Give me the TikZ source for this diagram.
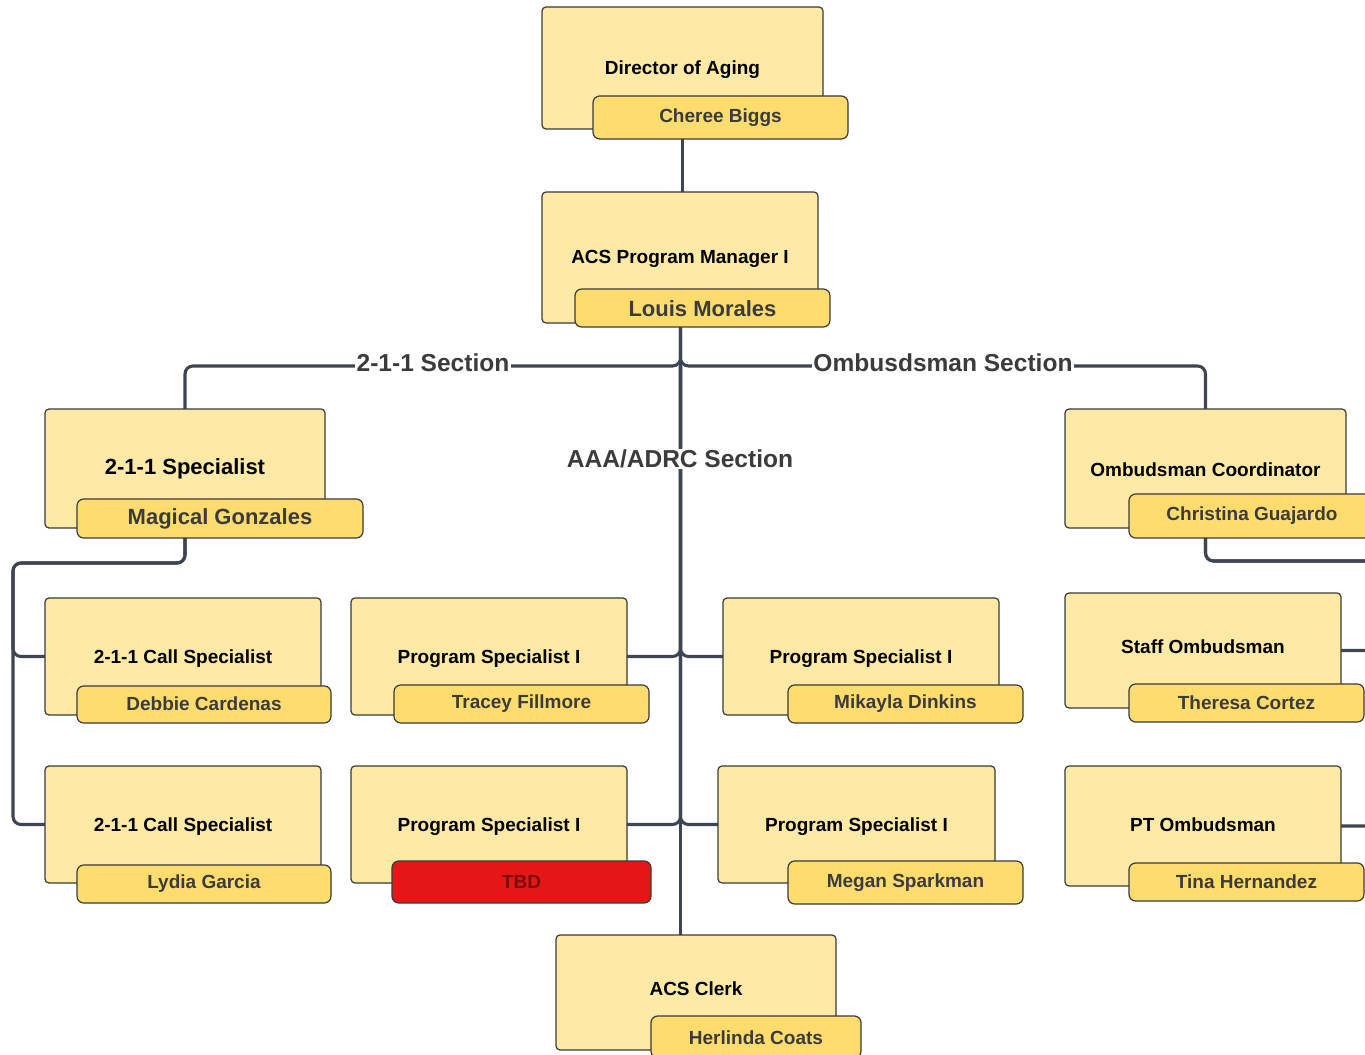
\documentclass[tikz,border=0pt]{standalone}
\usepackage{fontspec}
\setmainfont{Liberation Sans}
\usetikzlibrary{fit,backgrounds}

\definecolor{cardfill}{HTML}{FEE9A6}
\definecolor{badgefill}{HTML}{FFDC6E}
\definecolor{edgegray}{HTML}{3A3A3A}
\definecolor{wire}{HTML}{3E4451}
\definecolor{nametext}{HTML}{3B3B3B}
\definecolor{vacant}{HTML}{E51616}
\definecolor{vacanttext}{HTML}{7A0C0C}

% fit leaves the text high in the box: drop it so the cap line sits in the middle,
% then raise it by the optional amount
\newcommand\captext[2][0pt]{\raisebox{\dimexpr#1-0.36em-8pt\relax}{#2}}
\newcommand\nametag[2][3.25pt]{\captext[#1]{#2}}

\tikzset{
  card/.style={draw=edgegray, fill=cardfill, line width=0.9pt, rounded corners=3pt,
    inner sep=0pt, outer sep=0pt, text=black,
    font=\fontsize{14.25}{16}\selectfont\bfseries},
  bigtitle/.style={font=\fontsize{16.5}{18}\selectfont\bfseries},
  badge/.style={draw=edgegray, fill=badgefill, line width=0.9pt, rounded corners=5pt,
    inner sep=0pt, outer sep=0pt, text=nametext,
    font=\fontsize{14.25}{16}\selectfont\bfseries},
  bigname/.style={font=\fontsize{16.5}{18}\selectfont\bfseries},
  vacantbadge/.style={badge, fill=vacant, text=vacanttext},
  conn/.style={draw=wire, line width=2.3pt, rounded corners=6pt},
  sectionlabel/.style={fill=white, inner sep=1pt, text=nametext,
    font=\fontsize{18.4}{20}\selectfont\bfseries},
}

\begin{document}
\begin{tikzpicture}[x=0.75pt, y=-0.75pt]
\path[use as bounding box] (0,0) rectangle (1365,1055);
\clip (0,0) rectangle (1365,1055);

% top of the chart
\node[card, fit={(542,7) (823,129)}] (dir) {\captext{Director of Aging}};
\node[badge, fit={(593,96) (848,139)}] (dirN) {\nametag{Cheree Biggs}};
\node[card, fit={(542,192) (818,323)}] (pm) {\captext[1pt]{ACS Program Manager I}};
\node[badge, bigname, fit={(575,289) (830,327)}] (pmN) {\nametag[1pt]{Louis Morales}};

% 2-1-1 section
\node[card, bigtitle, fit={(45,409) (325,528)}] (s211) {\captext[1.5pt]{2-1-1 Specialist}};
\node[badge, bigname, fit={(77,499) (363,538)}] (s211N) {\nametag[1pt]{Magical Gonzales}};
\node[card, fit={(45,598) (321,715)}] (call1) {\captext{2-1-1 Call Specialist}};
\node[badge, fit={(77,686) (331,723)}] (call1N) {\nametag{Debbie Cardenas}};
\node[card, fit={(45,766) (321,883)}] (call2) {\captext{2-1-1 Call Specialist}};
\node[badge, fit={(77,865) (331,903)}] (call2N) {\nametag{Lydia Garcia}};

% AAA/ADRC section
\node[card, fit={(351,598) (627,715)}] (ps1) {\captext{Program Specialist I}};
\node[badge, fit={(394,685) (649,723)}] (ps1N) {\nametag{Tracey Fillmore}};
\node[card, fit={(723,598) (999,715)}] (ps2) {\captext{Program Specialist I}};
\node[badge, fit={(788,685) (1023,723)}] (ps2N) {\nametag{Mikayla Dinkins}};
\node[card, fit={(351,766) (627,883)}] (ps3) {\captext{Program Specialist I}};
\node[vacantbadge, fit={(392,861) (651,903)}] (ps3N) {\nametag{TBD}};
\node[card, fit={(718,766) (995,883)}] (ps4) {\captext{Program Specialist I}};
\node[badge, fit={(788,861) (1023,904)}] (ps4N) {\nametag{Megan Sparkman}};
\node[card, fit={(556,935) (836,1050)}] (clerk) {\captext[9.1pt]{ACS Clerk}};
\node[badge, fit={(651,1016) (861,1058)}] (clerkN) {\nametag[2pt]{Herlinda Coats}};

% Ombudsman section
\node[card, fit={(1065,409) (1346,528)}] (oc) {\captext[1.5pt]{Ombudsman Coordinator}};
\node[badge, fit={(1129,494) (1375,538)}] (ocN) {\nametag{Christina Guajardo}};
\node[card, fit={(1065,593) (1341,708)}] (staff) {\captext[9.1pt]{Staff Ombudsman}};
\node[badge, fit={(1129,684) (1364,722)}] (staffN) {\nametag[2.5pt]{Theresa Cortez}};
\node[card, fit={(1065,766) (1341,886)}] (pt) {\captext[4pt]{PT Ombudsman}};
\node[badge, fit={(1129,863) (1364,901)}] (ptN) {\nametag{Tina Hernandez}};

% junction points of the reporting lines
\coordinate (split) at (680.5,366);
\coordinate (lbus) at (13,563);
\coordinate (rbus) at (1400,561);

\begin{scope}[on background layer]
  \clip (0,0) rectangle (1365,1055);
  \draw[conn] (dir.center) -- (dir.center |- pm.north);
  \draw[conn] (split |- pm.center) -- (split |- clerk.north);
  \draw[conn] (split |- pm.center) -- (split) -| (s211.north);
  \draw[conn] (split |- pm.center) -- (split) -| (oc.north);
  \draw[conn] (split) |- (ps1.east);
  \draw[conn] (split) |- (ps2.west);
  \draw[conn] (split) |- (ps3.east);
  \draw[conn] (split) |- (ps4.west);
  \draw[conn] (s211.center) |- (lbus) |- (call1.west);
  \draw[conn] (s211.center) |- (lbus) |- (call2.west);
  \draw[conn] (oc.center) |- (rbus) |- (staff.east);
  \draw[conn] (oc.center) |- (rbus) |- (pt.east);
\end{scope}

% section names sitting on the lines
\node[sectionlabel] (sec211) at (433,363) {2-1-1 Section};
\node[sectionlabel] (secomb) at (943,363) {Ombusdsman Section};
\node[sectionlabel] (secaaa) at (680,459) {AAA/ADRC Section};
\end{tikzpicture}
\end{document}
